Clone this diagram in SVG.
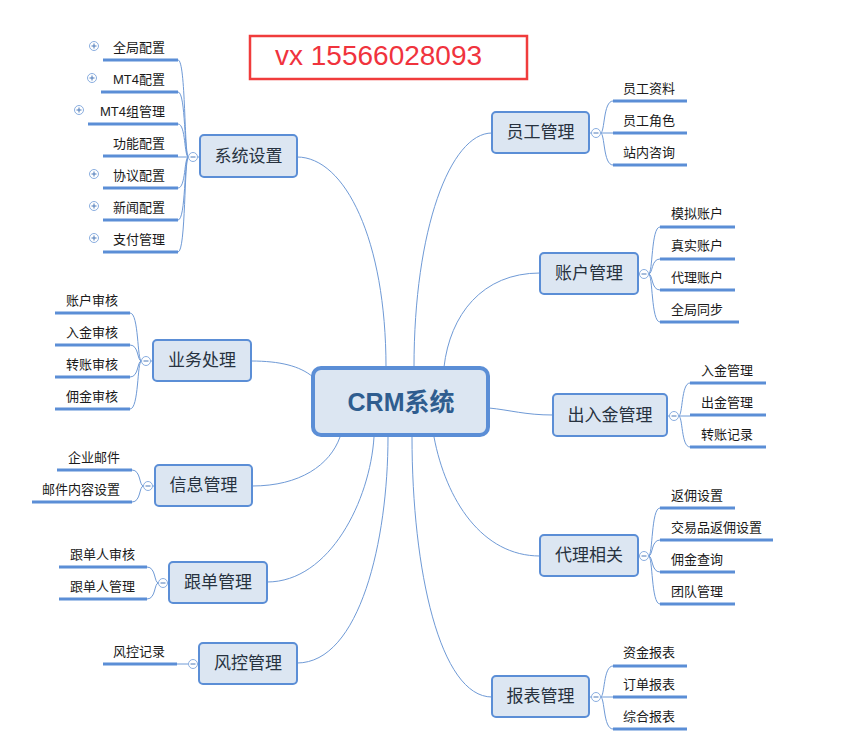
<svg xmlns="http://www.w3.org/2000/svg" width="856" height="749" viewBox="0 0 856 749">
<style>
text{font-family:"Liberation Sans","Noto Sans CJK SC",sans-serif;dominant-baseline:central}
.box{fill:#dce6f2;stroke:#5b8ed6;stroke-width:2}
.bt{font-size:17px;fill:#27323f;text-anchor:middle}
.ct{font-size:13px;fill:#1a1a1a}
.l{text-anchor:end}
.r{text-anchor:start}
.ul{stroke:#5b8ed6;stroke-width:3;fill:none}
.c{stroke:#6f9ad6;stroke-width:1;fill:none}
.tg{fill:#fff;stroke:#8aaee0;stroke-width:1}
.tm{stroke:#4a78b8;stroke-width:1}
</style>
<defs>
<g id="plus"><circle r="4.5" class="tg"/><path d="M-2.5 0H2.5M0 -2.5V2.5" class="tm"/></g>
<g id="minus"><circle r="4.5" class="tg"/><path d="M-2.5 0H2.5" class="tm"/></g>
</defs>
<rect width="856" height="749" fill="#fff"/>

<g id="connectors">
<path class="c" d="M297 157C345 157 386 240 386 367"/>
<path class="c" d="M492 133C450 133 414 230 414 367"/>
<path class="c" d="M540 273C482 273 450 315 444 367"/>
<path class="c" d="M553 415C525 415 510 410 489 408"/>
<path class="c" d="M540 556C482 556 446 500 434 437"/>
<path class="c" d="M492 697C440 697 412 570 412 437"/>
<path class="c" d="M297 663C360 663 388 540 388 437"/>
<path class="c" d="M267 582C330 582 370 500 374 437"/>
<path class="c" d="M252 486C300 486 330 465 340 437"/>
<path class="c" d="M251 361C280 361 300 366 313 377"/>
<!-- 系统设置 -->
<path class="c" d="M197.5 157H200M188.5 157C184 157 186 60 178 60M188.5 157C184 157 186 92 178 92M188.5 157C184 157 186 124 178 124M188.5 157H178M188.5 157C184 157 186 188 178 188M188.5 157C184 157 186 220 178 220M188.5 157C184 157 186 252 178 252"/>
<!-- 业务处理 -->
<path class="c" d="M150.5 361H153M141.5 361C137 361 139 313 130 313M141.5 361C137 361 139 345 130 345M141.5 361C137 361 139 377 130 377M141.5 361C137 361 139 409 130 409"/>
<!-- 信息管理 -->
<path class="c" d="M152.5 486H155M143.5 486C139 486 141 470 132 470M143.5 486C139 486 141 502 132 502"/>
<!-- 跟单管理 -->
<path class="c" d="M167.5 583H169M158.5 583C154 583 156 567 147 567M158.5 583C154 583 156 599 147 599"/>
<!-- 风控管理 -->
<path class="c" d="M197.5 664H199M188.5 664H177"/>
<!-- 员工管理 -->
<path class="c" d="M589 133H591.5M600.5 133C605 133 603 101 613 101M600.5 133H613M600.5 133C605 133 603 165 613 165"/>
<!-- 账户管理 -->
<path class="c" d="M638 274H639.5M648.5 274C653 274 651 227 660 227M648.5 274C653 274 651 259 660 259M648.5 274C653 274 651 290 660 290M648.5 274C653 274 651 322 660 322"/>
<!-- 出入金管理 -->
<path class="c" d="M667 416H669.5M678.5 416C683 416 681 383 690 383M678.5 416H690M678.5 416C683 416 681 447 690 447"/>
<!-- 代理相关 -->
<path class="c" d="M638 556H639.5M648.5 556C653 556 651 508 660 508M648.5 556C653 556 651 540 660 540M648.5 556C653 556 651 572 660 572M648.5 556C653 556 651 604 660 604"/>
<!-- 报表管理 -->
<path class="c" d="M589 697H591.5M600.5 697C605 697 603 666 613 666M600.5 697H613M600.5 697C605 697 603 729 613 729"/>
</g>

<g id="vx">
<rect x="250" y="36" width="277" height="43" fill="#fff" stroke="#f03c3c" stroke-width="2.5"/>
<text x="275" y="55" font-size="28" fill="#f0333d" style="font-family:'Liberation Sans',sans-serif">vx 15566028093</text>
</g>

<g id="center">
<rect x="313" y="368" width="175" height="67" rx="8" fill="#dce6f2" stroke="#5b8ed6" stroke-width="4"/>
<text x="401" y="402" font-size="25" font-weight="bold" fill="#2f5d8f" text-anchor="middle">CRM系统</text>
</g>

<g id="n-xitong">
<rect class="box" x="200" y="135" width="97" height="42" rx="4"/>
<text class="bt" x="248.5" y="156">系统设置</text>
<use href="#minus" x="193" y="157"/>
<path class="ul" d="M103 60H178M101 92H178M88 124H178M103 156H178M103 188H178M103 220H178M103 252H178"/>
<text class="ct l" x="165" y="47">全局配置</text>
<text class="ct l" x="165" y="79">MT4配置</text>
<text class="ct l" x="165" y="111">MT4组管理</text>
<text class="ct l" x="165" y="143">功能配置</text>
<text class="ct l" x="165" y="175">协议配置</text>
<text class="ct l" x="165" y="207">新闻配置</text>
<text class="ct l" x="165" y="239">支付管理</text>
<use href="#plus" x="94" y="46"/>
<use href="#plus" x="92" y="78"/>
<use href="#plus" x="79" y="110"/>
<use href="#plus" x="94" y="174"/>
<use href="#plus" x="94" y="206"/>
<use href="#plus" x="94" y="238"/>
</g>

<g id="n-yewu">
<rect class="box" x="153" y="340" width="98" height="41" rx="4"/>
<text class="bt" x="202" y="360">业务处理</text>
<use href="#minus" x="146" y="361"/>
<path class="ul" d="M55 313H130M55 345H130M55 377H130M55 409H130"/>
<text class="ct l" x="118" y="300">账户审核</text>
<text class="ct l" x="118" y="332">入金审核</text>
<text class="ct l" x="118" y="364">转账审核</text>
<text class="ct l" x="118" y="396">佣金审核</text>
</g>

<g id="n-xinxi">
<rect class="box" x="155" y="465" width="97" height="41" rx="4"/>
<text class="bt" x="203.5" y="485">信息管理</text>
<use href="#minus" x="148" y="486"/>
<path class="ul" d="M57 470H132M32 502H132"/>
<text class="ct l" x="120" y="457">企业邮件</text>
<text class="ct l" x="120" y="489">邮件内容设置</text>
</g>

<g id="n-gendan">
<rect class="box" x="169" y="562" width="98" height="41" rx="4"/>
<text class="bt" x="218" y="582">跟单管理</text>
<use href="#minus" x="163" y="583"/>
<path class="ul" d="M59 567H147M59 599H147"/>
<text class="ct l" x="135" y="554">跟单人审核</text>
<text class="ct l" x="135" y="586">跟单人管理</text>
</g>

<g id="n-fengkong">
<rect class="box" x="199" y="643" width="98" height="41" rx="4"/>
<text class="bt" x="248" y="663">风控管理</text>
<use href="#minus" x="193" y="664"/>
<path class="ul" d="M103 664H177"/>
<text class="ct l" x="165" y="651">风控记录</text>
</g>

<g id="n-yuangong">
<rect class="box" x="492" y="112" width="97" height="41" rx="4"/>
<text class="bt" x="540.5" y="132">员工管理</text>
<use href="#minus" x="596" y="133"/>
<path class="ul" d="M613 101H687M613 133H687M613 165H687"/>
<text class="ct r" x="623" y="88">员工资料</text>
<text class="ct r" x="623" y="120">员工角色</text>
<text class="ct r" x="623" y="152">站内咨询</text>
</g>

<g id="n-zhanghu">
<rect class="box" x="540" y="253" width="98" height="41" rx="4"/>
<text class="bt" x="589" y="273">账户管理</text>
<use href="#minus" x="644" y="274"/>
<path class="ul" d="M660 227H735M660 259H735M660 290H735M660 322H739"/>
<text class="ct r" x="671" y="213">模拟账户</text>
<text class="ct r" x="671" y="245">真实账户</text>
<text class="ct r" x="671" y="277">代理账户</text>
<text class="ct r" x="671" y="309">全局同步</text>
</g>

<g id="n-churujin">
<rect class="box" x="553" y="394" width="114" height="42" rx="4"/>
<text class="bt" x="610" y="415">出入金管理</text>
<use href="#minus" x="674" y="416"/>
<path class="ul" d="M690 383H766M690 415H766M690 447H766"/>
<text class="ct r" x="701" y="370">入金管理</text>
<text class="ct r" x="701" y="402">出金管理</text>
<text class="ct r" x="701" y="434">转账记录</text>
</g>

<g id="n-daili">
<rect class="box" x="540" y="535" width="98" height="41" rx="4"/>
<text class="bt" x="589" y="555">代理相关</text>
<use href="#minus" x="644" y="556"/>
<path class="ul" d="M660 508H735M660 540H773M660 572H735M660 604H735"/>
<text class="ct r" x="671" y="495">返佣设置</text>
<text class="ct r" x="671" y="527">交易品返佣设置</text>
<text class="ct r" x="671" y="559">佣金查询</text>
<text class="ct r" x="671" y="591">团队管理</text>
</g>

<g id="n-baobiao">
<rect class="box" x="492" y="676" width="97" height="41" rx="4"/>
<text class="bt" x="540.5" y="696">报表管理</text>
<use href="#minus" x="596" y="697"/>
<path class="ul" d="M613 666H687M613 697H687M613 729H687"/>
<text class="ct r" x="623" y="652">资金报表</text>
<text class="ct r" x="623" y="684">订单报表</text>
<text class="ct r" x="623" y="716">综合报表</text>
</g>
</svg>
